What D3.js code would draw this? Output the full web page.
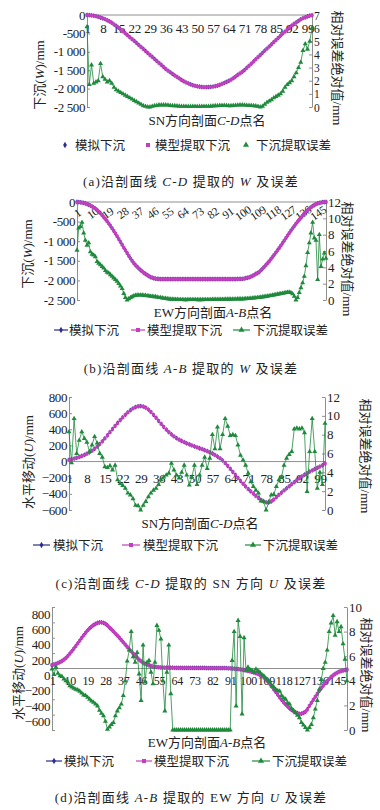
<!DOCTYPE html>
<html>
<head>
<meta charset="utf-8">
<script src="https://cdn.jsdelivr.net/npm/d3@7"></script>
<style>
    body { margin: 0; background: #fff; }
    text { font-family: "Liberation Serif", "Noto Sans CJK SC", serif; fill: #222; }
</style>
</head>
<body>
<svg id="fig" width="380" height="810"></svg>
<script>
// point names shown on the category axes
const ticksCD = [1, 8, 15, 22, 29, 36, 43, 50, 57, 64, 71, 78, 85, 92, 99];
const ticksAB = [1, 10, 19, 28, 37, 46, 55, 64, 73, 82, 91, 100, 109, 118, 127, 136, 145];

// (a) subsidence along C-D (mm) and its relative error (mm)
const wCD = [0, -4, -10, -20, -33, -50, -69, -90, -115, -143,
    -175, -210, -255, -298, -345, -395, -446, -497, -549, -601,
    -653, -705, -760, -815, -869, -923, -977, -1032, -1087, -1141,
    -1195, -1249, -1303, -1357, -1412, -1467, -1513, -1558, -1601, -1643,
    -1684, -1725, -1766, -1800, -1831, -1859, -1884, -1906, -1924, -1938,
    -1949, -1956, -1960, -1960, -1957, -1952, -1945, -1933, -1917, -1897,
    -1873, -1846, -1820, -1793, -1757, -1717, -1674, -1630, -1587, -1542,
    -1495, -1438, -1380, -1322, -1263, -1205, -1146, -1087, -1029, -971,
    -913, -855, -797, -738, -680, -620, -562, -505, -450, -395,
    -342, -290, -243, -198, -157, -120, -88, -62, -40, -20, -5];
const errWCD = [6.1, 1.7, 3.2, 1.8, 1.9, 2.0, 3.3, 2.3, 2.1, 1.9,
    2.0, 1.8, 1.5, 1.3, 1.2, 1.1, 1.0, 0.9, 0.8, 0.7,
    0.6, 0.5, 0.4, 0.3, 0.2, 0.1, 0.05, 0.0, 0.0, 0.05,
    0.1, 0.12, 0.15, 0.15, 0.15, 0.15, 0.14, 0.12, 0.1, 0.1,
    0.08, 0.06, 0.05, 0.05, 0.05, 0.04, 0.04, 0.05, 0.05, 0.04,
    0.04, 0.05, 0.05, 0.05, 0.05, 0.06, 0.08, 0.1, 0.1, 0.12,
    0.12, 0.13, 0.12, 0.1, 0.1, 0.12, 0.13, 0.14, 0.15, 0.15,
    0.14, 0.13, 0.12, 0.12, 0.1, 0.08, 0.05, 0.0, 0.05, 0.2,
    0.35, 0.45, 0.55, 0.7, 0.8, 0.9, 1.0, 1.2, 1.5, 1.7,
    1.85, 2.0, 2.3, 2.6, 3.0, 3.4, 4.3, 4.8, 4.4, 5.0, 6.0];

// (b) subsidence along A-B
const wAB = [0, -3, -8, -15, -25, -38, -53, -70, -90, -113,
    -140, -170, -205, -243, -285, -333, -383, -435, -490, -548,
    -608, -670, -736, -804, -874, -946, -1018, -1090, -1162, -1233,
    -1303, -1372, -1440, -1502, -1558, -1608, -1652, -1695, -1735, -1772,
    -1806, -1836, -1863, -1890, -1915, -1932, -1945, -1954, -1960, -1963,
    -1965, -1965, -1966, -1966, -1966, -1966, -1966, -1966, -1966, -1966,
    -1966, -1966, -1966, -1966, -1966, -1966, -1966, -1966, -1966, -1966,
    -1966, -1966, -1966, -1966, -1966, -1966, -1966, -1966, -1966, -1966,
    -1966, -1966, -1966, -1966, -1966, -1966, -1966, -1966, -1966, -1966,
    -1966, -1966, -1965, -1965, -1965, -1965, -1964, -1963, -1962, -1960,
    -1953, -1944, -1933, -1920, -1905, -1885, -1862, -1836, -1812, -1786,
    -1746, -1702, -1656, -1610, -1562, -1513, -1458, -1402, -1346, -1289,
    -1231, -1173, -1110, -1047, -983, -919, -855, -791, -732, -673,
    -615, -558, -503, -451, -398, -347, -298, -252, -210, -170,
    -135, -104, -77, -55, -37, -23, -13, -6, -2, 0];
const errWAB = [6.1, 8.8, 9.0, 9.5, 8.2, 7.3, 6.7, 7.0, 5.9, 5.6,
    5.5, 5.3, 4.7, 4.5, 4.3, 4.1, 3.9, 3.6, 3.4, 3.3,
    3.1, 2.9, 2.7, 2.5, 2.3, 2.0, 1.7, 1.4, 0.8, 0.3,
    0.0, 0.15, 0.3, 0.4, 0.5, 0.55, 0.6, 0.6, 0.6, 0.6,
    0.55, 0.55, 0.5, 0.5, 0.45, 0.45, 0.4, 0.4, 0.35, 0.3,
    0.3, 0.25, 0.2, 0.2, 0.15, 0.12, 0.1, 0.1, 0.08, 0.08,
    0.06, 0.05, 0.05, 0.05, 0.04, 0.04, 0.04, 0.05, 0.05, 0.05,
    0.05, 0.05, 0.04, 0.04, 0.04, 0.04, 0.05, 0.05, 0.05, 0.05,
    0.05, 0.06, 0.06, 0.06, 0.07, 0.07, 0.08, 0.08, 0.08, 0.09,
    0.09, 0.1, 0.1, 0.1, 0.11, 0.11, 0.12, 0.12, 0.13, 0.13,
    0.14, 0.15, 0.17, 0.19, 0.21, 0.23, 0.25, 0.27, 0.29, 0.31,
    0.34, 0.37, 0.4, 0.43, 0.46, 0.5, 0.54, 0.58, 0.62, 0.66,
    0.7, 0.74, 0.78, 0.82, 0.86, 0.9, 0.93, 0.95, 0.9, 0.75,
    0.45, 0.0, 0.3, 0.9, 1.5, 2.1, 2.9, 4.2, 5.8, 7.0,
    8.2, 9.5, 7.6, 7.3, 2.5, 8.0, 4.1, 5.0, 5.75, 5.1];

// (c) SN horizontal movement along C-D
const uCD = [20, 28, 37, 47, 57, 69, 82, 97, 115, 135,
    158, 185, 215, 250, 286, 325, 364, 403, 441, 478,
    514, 548, 580, 610, 636, 658, 675, 685, 688, 682,
    668, 645, 615, 580, 543, 505, 467, 430, 396, 365,
    337, 312, 290, 271, 255, 240, 226, 213, 200, 188,
    176, 165, 153, 141, 128, 115, 100, 82, 62, 40,
    14, -18, -52, -90, -128, -166, -203, -240, -275, -308,
    -340, -369, -397, -424, -451, -475, -494, -505, -507, -493,
    -470, -440, -412, -385, -358, -332, -306, -280, -255, -230,
    -206, -184, -163, -144, -126, -110, -94, -78, -62, -46, -25];
const errUCD = [8.3, 5.0, 9.7, 6.0, 7.4, 8.3, 7.6, 7.2, 6.2, 6.9,
    7.8, 7.1, 6.0, 5.6, 4.6, 4.5, 4.7, 4.25, 4.75, 3.2,
    2.8, 2.6, 2.3, 1.8, 1.6, 1.2, 0.5, 0.45, 0.0, 0.5,
    0.9, 1.4, 1.8, 2.1, 2.3, 2.7, 3.2, 3.5, 3.7, 3.9,
    4.95, 4.25, 3.7, 3.4, 4.0, 4.75, 3.7, 2.65, 3.5, 4.75,
    2.7, 3.7, 4.75, 5.6, 4.4, 5.5, 8.0, 6.5, 8.8, 6.5,
    8.0, 9.7, 8.9, 7.9, 8.0, 7.9, 6.9, 5.8, 5.3, 4.75,
    3.9, 3.0, 2.5, 2.1, 1.8, 0.95, 0.9, 0.0, 0.85, 1.6,
    1.65, 2.5, 3.2, 3.5, 4.75, 5.5, 5.9, 6.2, 8.6, 8.7,
    8.6, 8.7, 8.2, 1.95, 6.2, 9.7, 6.2, 2.3, 4.0, 2.7, 9.2];

// (d) EW horizontal movement along A-B
const uAB = [45, 52, 60, 70, 82, 96, 114, 135, 162, 192,
    224, 257, 290, 326, 362, 398, 432, 465, 495, 522,
    546, 565, 580, 592, 600, 600, 595, 582, 560, 533,
    508, 482, 455, 428, 400, 370, 340, 310, 280, 250,
    222, 194, 166, 140, 115, 94, 76, 61, 49, 40,
    33, 27, 22, 18, 15, 13, 12, 11, 10, 10,
    10, 10, 9, 9, 9, 9, 8, 8, 8, 8,
    8, 8, 7, 7, 7, 7, 7, 7, 6, 6,
    6, 6, 6, 6, 5, 5, 5, 5, 4, 3,
    2, 0, -2, -5, -8, -11, -15, -20, -26, -32,
    -38, -44, -52, -61, -71, -83, -96, -112, -135, -165,
    -198, -233, -270, -305, -340, -375, -408, -440, -468, -494,
    -518, -538, -555, -570, -582, -590, -588, -578, -560, -530,
    -485, -445, -405, -365, -327, -290, -255, -222, -190, -162,
    -135, -110, -88, -70, -55, -42, -34, -27, -21, -16];
const errUAB = [4.95, 4.5, 5.1, 4.6, 4.4, 4.35, 4.15, 4.0, 3.9, 3.6,
    3.5, 3.4, 3.3, 3.25, 3.15, 3.0, 2.85, 2.8, 2.65, 2.5,
    2.35, 2.25, 2.1, 1.95, 1.6, 1.35, 1.15, 0.7, 0.05, 0.25,
    0.45, 0.6, 1.15, 1.55, 1.8, 2.1, 2.8, 4.0, 5.6, 6.5,
    8.0, 5.95, 5.5, 6.3, 4.55, 2.4, 6.9, 3.9, 5.5, 5.65,
    4.7, 3.75, 5.5, 8.5, 8.1, 7.4, 4.0, 1.55, 4.7, 6.9,
    2.95, 0, 0, 0, 0, 0, 0, 0, 0, 0,
    0, 0, 0, 0, 0, 0, 0, 0, 0, 0,
    0, 0, 0, 0, 0, 0, 0, 0, 0, 0,
    0, 5.65, 8.0, 1.95, 8.9, 7.6, 1.3, 7.5, 4.85, 5.1,
    4.9, 4.85, 4.7, 4.95, 4.8, 4.7, 4.5, 4.4, 4.2, 4.0,
    3.9, 3.6, 3.5, 3.3, 3.2, 3.15, 2.8, 2.6, 2.5, 2.2,
    2.1, 1.75, 1.6, 1.4, 1.2, 1.0, 0.6, 0.4, 0.2, 0.0,
    0.2, 0.45, 1.0, 1.7, 2.4, 3.3, 4.1, 5.0, 5.5, 6.5,
    8.0, 8.7, 9.3, 7.7, 8.8, 8.0, 8.4, 7.0, 5.75, 4.0];

// the simulated and the extracted curves differ by a few mm only,
// so at this scale both are read off the same trace
const legendNames = ["模拟下沉", "模型提取下沉", "下沉提取误差"];
const rightTitle = "相对误差绝对值/mm";

const C_SIM = "#2d2d8c", C_MOD = "#c23fbf", C_ERR = "#1f8a3c", C_AX = "#8f8f8f";
const SERIF = "'Liberation Serif', 'Noto Sans CJK SC', serif";

const svg = d3.select("#fig");
svg.append("rect").attr("width", 380).attr("height", 810).attr("fill", "#fff");

function rich(sel, parts) {
    parts.forEach(p => {
        sel.append("tspan").text(p[0]).attr("font-style", p[1] ? "italic" : null);
    });
}

function fmtW(d) {
    if (d === 0) return "0";
    const s = String(Math.abs(d));
    const t = s.length > 3 ? s.slice(0, s.length - 3) + " " + s.slice(-3) : s;
    return (d < 0 ? "-" : "") + t;
}

function drawPanel(p) {
    const g = svg.append("g");
    const ids = d3.range(1, p.sim.length + 1);
    const x = d3.scalePoint().domain(ids).range([p.x0, p.x1]);
    const y = d3.scaleLinear().domain(p.yDom).range([p.yB, p.yT]);
    const y2 = d3.scaleLinear().domain(p.y2Dom).range([p.yB, p.yT]);

    // left axis
    const gl = g.append("g").attr("transform", "translate(" + p.x0 + ",0)")
        .call(d3.axisLeft(y).tickValues(p.yTicks).tickFormat(p.yFmt)
            .tickSizeInner(-3).tickSizeOuter(0).tickPadding(2));
    gl.attr("font-family", SERIF).attr("font-size", 13);
    gl.selectAll("path,line").attr("stroke", C_AX);
    gl.selectAll("text").attr("fill", "#222").attr("letter-spacing", -0.4)
        .attr("dy", (p.yLabelDy || 0) + 4);

    // right axis
    const gr = g.append("g").attr("transform", "translate(" + p.x1 + ",0)")
        .call(d3.axisRight(y2).tickValues(p.y2Ticks).tickFormat(d3.format("d"))
            .tickSizeInner(-3).tickSizeOuter(0).tickPadding(2));
    gr.attr("font-family", SERIF).attr("font-size", p.y2Font || 13);
    gr.selectAll("path,line").attr("stroke", C_AX);
    gr.selectAll("text").attr("fill", "#222").attr("dy", 4);

    // category axis sitting on the zero line
    const gx = g.append("g").attr("transform", "translate(0," + y(0) + ")")
        .call(d3.axisBottom(x).tickValues(p.xTicks).tickSize(0).tickPadding(p.xPad));
    gx.attr("font-family", SERIF).attr("font-size", p.xFont);
    gx.select(".domain").attr("stroke", C_AX).attr("d", "M" + p.x0 + ",0H" + p.x1);
    gx.selectAll("text").attr("fill", "#222").attr("letter-spacing", -0.3);
    if (p.xRotate) {
        gx.selectAll(".tick text").attr("y", 0).attr("dy", "0.35em")
            .attr("transform", "translate(0," + p.xPad + ") rotate(" + p.xRotate + ")");
    }

    const lineOf = (sc, vals) => d3.line().x((d, i) => x(i + 1)).y(d => sc(d))(vals);

    function series(vals, sc, color, sym, size, lw) {
        g.append("path").attr("d", lineOf(sc, vals)).attr("fill", "none")
            .attr("stroke", color).attr("stroke-width", lw);
        g.append("g").selectAll("path").data(vals).join("path")
            .attr("transform", (d, i) => "translate(" + x(i + 1) + "," + sc(d) + ")")
            .attr("d", d3.symbol().type(sym).size(size))
            .attr("fill", color);
    }
    series(p.sim, y, C_SIM, d3.symbolDiamond, 8, 1);
    series(p.sim, y, C_MOD, d3.symbolSquare, 10, 1);
    series(p.err, y2, C_ERR, d3.symbolTriangle, 11, 0.8);

    // axis titles
    g.append("text").attr("transform", "translate(" + p.lt[0] + "," + p.lt[1] + ") rotate(-90)")
        .attr("text-anchor", "middle").attr("dominant-baseline", "central")
        .attr("font-size", 13).call(rich, p.leftTitle);
    g.append("text").attr("transform", "translate(" + p.rt[0] + "," + p.rt[1] + ") rotate(90)")
        .attr("text-anchor", "middle").attr("dominant-baseline", "central")
        .attr("font-size", 13).text(rightTitle);
    g.append("text").attr("x", p.xt[0]).attr("y", p.xt[1])
        .attr("text-anchor", "middle").attr("font-size", 13).call(rich, p.xTitle);

    // legend
    const syms = [d3.symbolDiamond, d3.symbolSquare, d3.symbolTriangle];
    const cols = [C_SIM, C_MOD, C_ERR];
    p.leg.forEach((L, i) => {
        const lg = g.append("g");
        if (!p.legNoLine) {
            lg.append("line").attr("x1", L[0]).attr("x2", L[1]).attr("y1", p.legY).attr("y2", p.legY)
                .attr("stroke", cols[i]).attr("stroke-width", 1.2);
        }
        lg.append("path").attr("transform", "translate(" + (L[0] + L[1]) / 2 + "," + p.legY + ")")
            .attr("d", d3.symbol().type(syms[i]).size(i === 0 ? 12 : 16)).attr("fill", cols[i]);
        lg.append("text").attr("x", L[2]).attr("y", p.legY).attr("dy", "0.36em")
            .attr("font-size", 12.5).text(legendNames[i]);
    });

    // caption
    g.append("text").attr("x", 191).attr("y", p.capY).attr("text-anchor", "middle")
        .attr("font-size", 13).attr("letter-spacing", 1.2).call(rich, p.caption);
}

drawPanel({
    sim: wCD, err: errWCD, x0: 87, x1: 312, yT: 15, yB: 107,
    yDom: [-2500, 0], yTicks: [0, -500, -1000, -1500, -2000, -2500], yFmt: fmtW,
    y2Dom: [0, 7], y2Ticks: [0, 1, 2, 3, 4, 5, 6, 7], y2Font: 11.5,
    xTicks: ticksCD, xPad: 9, xFont: 13,
    lt: [39, 75], rt: [337, 68], xt: [207, 125],
    leftTitle: [["下沉(", 0], ["W", 1], [")/mm", 0]],
    xTitle: [["SN方向剖面", 0], ["C-D", 1], ["点名", 0]],
    legY: 145, legNoLine: true, leg: [[60, 70, 75], [143, 153, 155], [241, 251, 256]],
    capY: 186, caption: [["(a)沿剖面线 ", 0], ["C-D", 1], [" 提取的 ", 0], ["W", 1], [" 及误差", 0]]
});

drawPanel({
    sim: wAB, err: errWAB, x0: 77, x1: 326, yT: 202, yB: 300,
    yDom: [-2500, 0], yTicks: [0, -500, -1000, -1500, -2000, -2500], yFmt: fmtW,
    y2Dom: [0, 12], y2Ticks: [0, 2, 4, 6, 8, 10, 12],
    xTicks: ticksAB, xPad: 11, xFont: 11.5, xRotate: -35,
    lt: [27, 254], rt: [347, 259], xt: [213, 317],
    leftTitle: [["下沉(", 0], ["W", 1], [")/mm", 0]],
    xTitle: [["EW方向剖面", 0], ["A-B", 1], ["点名", 0]],
    legY: 330, leg: [[54, 68, 69], [131, 145, 147], [233, 250, 253]],
    capY: 373, caption: [["(b)沿剖面线 ", 0], ["A-B", 1], [" 提取的 ", 0], ["W", 1], [" 及误差", 0]]
});

drawPanel({
    sim: uCD, err: errUCD, x0: 69, x1: 325, yT: 397, yB: 510,
    yDom: [-600, 800], yTicks: [800, 600, 400, 200, 0, -200, -400, -600], yFmt: d3.format("d"),
    y2Dom: [0, 12], y2Ticks: [0, 2, 4, 6, 8, 10, 12],
    xTicks: ticksCD, xPad: 12, xFont: 13,
    lt: [28, 462], rt: [365, 456], xt: [200, 528],
    leftTitle: [["水平移动(", 0], ["U", 1], [")/mm", 0]],
    xTitle: [["SN方向剖面", 0], ["C-D", 1], ["点名", 0]],
    legY: 545, leg: [[33, 50, 53], [122, 140, 143], [245, 261, 263]],
    capY: 588, caption: [["(c)沿剖面线 ", 0], ["C-D", 1], [" 提取的 SN 方向 ", 0], ["U", 1], [" 及误差", 0]]
});

drawPanel({
    sim: uAB, err: errUAB, x0: 52, x1: 347, yT: 607, yB: 730,
    yDom: [-800, 800], yTicks: [800, 600, 400, 200, 0, -200, -400, -600, -800],
    yFmt: d => d === -800 ? "" : d3.format("d")(d), yLabelDy: 7,
    y2Dom: [0, 10], y2Ticks: [0, 2, 4, 6, 8, 10],
    xTicks: ticksAB, xPad: 8, xFont: 12,
    lt: [18, 673], rt: [366, 675], xt: [207, 747],
    leftTitle: [["水平移动(", 0], ["U", 1], [")/mm", 0]],
    xTitle: [["EW方向剖面", 0], ["A-B", 1], ["点名", 0]],
    legY: 761, leg: [[46, 62, 64], [136, 152, 154], [252, 270, 272]],
    capY: 802, caption: [["(d)沿剖面线 ", 0], ["A-B", 1], [" 提取的 EW 方向 ", 0], ["U", 1], [" 及误差", 0]]
});
</script>
</body>
</html>
